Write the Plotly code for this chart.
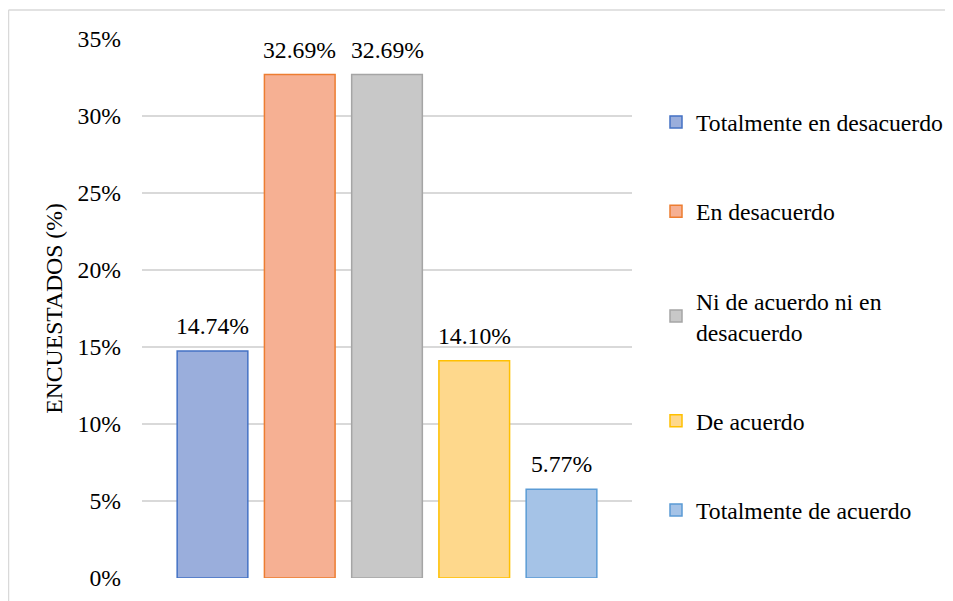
import plotly.graph_objects as go

categories = ["Totalmente en desacuerdo", "En desacuerdo",
              "Ni de acuerdo ni en<br>desacuerdo", "De acuerdo",
              "Totalmente de acuerdo"]
values = [14.74, 32.69, 32.69, 14.10, 5.77]
labels = ["14.74%", "32.69%", "32.69%", "14.10%", "5.77%"]
fill_colors = ["#9aaedc", "#f6b093", "#c8c8c8", "#fed88c", "#a5c3e7"]
line_colors = ["#4472c4", "#ed7d31", "#a5a5a5", "#ffc000", "#5b9bd5"]
y_ticks = [0, 5, 10, 15, 20, 25, 30, 35]
y_tick_text = ["0%", "5%", "10%", "15%", "20%", "25%", "30%", "35%"]

FONT = "Liberation Serif"
FS = 23.7

# page body has an 8px margin, so the figure is drawn 8px smaller
W, H = 945, 593
ML, MT, PW, PH = 134, 31, 490, 539

fig = go.Figure()
for i, name in enumerate(categories):
    fig.add_trace(go.Bar(
        x=[i], y=[values[i]], name=name, legendgroup=f"g{i}",
        width=0.81,
        marker=dict(color=fill_colors[i],
                    line=dict(color=line_colors[i], width=1.5)),
        hoverinfo="name+y",
    ))

annotations = [
    dict(x=i, y=v, xref="x", yref="y", text=t, showarrow=False,
         yanchor="bottom", yshift=10,
         font=dict(family=FONT, size=FS, color="#000000"))
    for i, (v, t) in enumerate(zip(values, labels))
]

top_y = 1 + (MT - 2) / PH
left_x = (0.5 - ML) / PW

fig.update_layout(
    width=W, height=H,
    paper_bgcolor="white", plot_bgcolor="white",
    margin=dict(l=ML, r=W - ML - PW, t=MT, b=H - MT - PH, pad=0,
                autoexpand=False),
    barmode="overlay",
    font=dict(family=FONT, size=FS, color="#000000"),
    showlegend=True,
    legend=dict(x=(648 - ML) / PW, xanchor="left", y=1 - (92 - MT) / PH,
                yanchor="top",
                font=dict(family=FONT, size=FS, color="#000000"),
                tracegroupgap=55.5, bgcolor="rgba(0,0,0,0)"),
    xaxis=dict(range=[-0.808, 4.808], showticklabels=False, showgrid=False,
               zeroline=False, showline=False, fixedrange=True),
    yaxis=dict(range=[0, 35], tickmode="array", tickvals=y_ticks,
               ticktext=y_tick_text,
               showgrid=True, gridcolor="#d9d9d9", gridwidth=1.5,
               zeroline=False, showline=False, ticklabelstandoff=20,
               tickfont=dict(family=FONT, size=FS, color="#000000"),
               title=dict(text="ENCUESTADOS (%)", standoff=8,
                          font=dict(family=FONT, size=FS, color="#000000"))),
    annotations=annotations,
    shapes=[
        dict(type="line", xref="paper", yref="paper",
             x0=left_x, x1=left_x, y0=-(H - MT - PH) / PH - 0.01, y1=top_y,
             line=dict(color="#d9d9d9", width=1.5)),
        dict(type="line", xref="paper", yref="paper",
             x0=left_x, x1=(W - ML) / PW + 0.01, y0=top_y, y1=top_y,
             line=dict(color="#d9d9d9", width=1.5)),
    ],
)

fig.write_html("out.html")
